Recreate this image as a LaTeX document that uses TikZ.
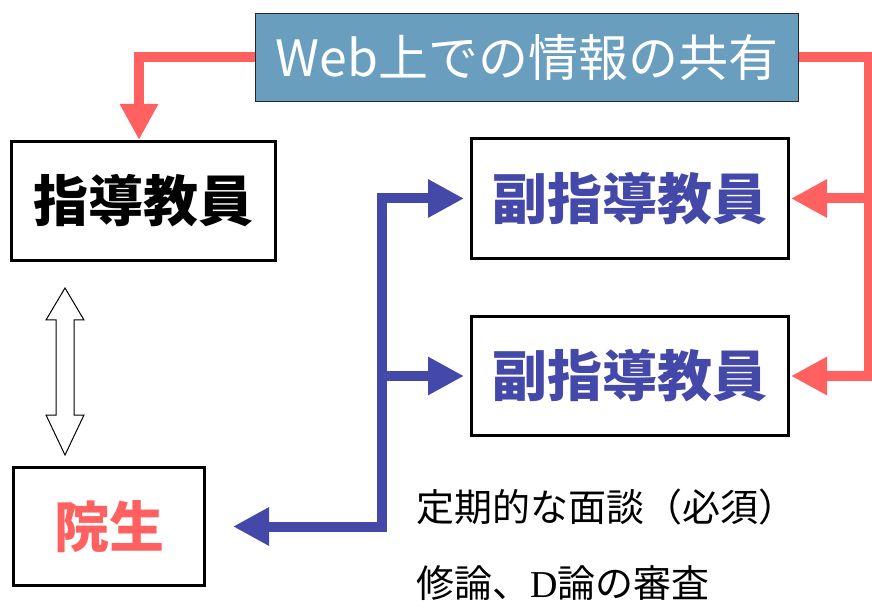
\documentclass[tikz,border=0pt]{standalone}
\usepackage{fontspec}
\setmainfont{Noto Sans CJK JP}
\newfontfamily\dfont{Liberation Serif}
\usetikzlibrary{arrows.meta}
\definecolor{redc}{HTML}{FF6161}
\definecolor{bluec}{HTML}{4448A8}
\definecolor{webc}{HTML}{699EBF}
\begin{document}
\begin{tikzpicture}[x=1pt,y=-1pt,
    box/.style={draw,line width=3pt,inner sep=0pt,font=\fontsize{55}{60}\selectfont\bfseries},
    redline/.style={redc,line width=10pt,line join=miter,-{Triangle[length=36pt,width=36pt]}},
    blueline/.style={bluec,line width=10pt,line join=miter},
    note/.style={anchor=west,inner sep=0pt,text depth=0pt,font=\fontsize{38}{40}\selectfont}]
\useasboundingbox (0,0) rectangle (872,609);
% boxes
\node[draw=black!85,line width=1.5pt,fill=webc,text=white,minimum width=543pt,minimum height=88pt,inner sep=0pt,font=\fontsize{50}{54}\selectfont] (web) at (527,57.5) {Web上での情報の共有};
\node[box,minimum width=264pt,minimum height=119pt] (shido) at (143.5,201) {指導教員};
\node[box,text=bluec,minimum width=317pt,minimum height=120pt] (fuku1) at (630,198.5) {副指導教員};
\node[box,text=bluec,minimum width=317pt,minimum height=119pt] (fuku2) at (630,376) {副指導教員};
\node[box,text=redc,minimum width=191pt,minimum height=118pt] (insei) at (109,526.5) {院生};
% red: sharing
\coordinate (rc) at (869,0);
\draw[redline] (web.west) -| ([xshift=-4.5pt]shido.north);
\draw[redline] (web.east) -| (rc |- fuku2.east) -- ([xshift=1pt]fuku2.east);
\draw[redline] (rc |- fuku1.east) -- ([xshift=1pt]fuku1.east);
% blue: meetings
\coordinate (bus) at (382,0);
\draw[blueline,{Triangle[length=36pt,width=36pt]}-{Triangle[length=36pt,width=36pt]}] ([xshift=27pt]insei.east) -| (bus |- fuku1.west) -- ([xshift=-6pt]fuku1.west);
\draw[blueline,-{Triangle[length=36pt,width=36pt]}] (bus |- fuku2.west) -- ([xshift=-6pt]fuku2.west);
% open double arrow
\draw[line width=1pt,line join=miter] (65,288) -- (84,320) -- (74,320) -- (74,415) -- (84,415) -- (65,455)
      -- (46,415) -- (56,415) -- (56,320) -- (46,320) -- cycle;
% notes
\node[note] (n1) at (416,505) {定期的な面談（必須）};
\node[note] (n2) at (416,582) {修論、{\dfont D}論の審査};
\end{tikzpicture}
\end{document}
